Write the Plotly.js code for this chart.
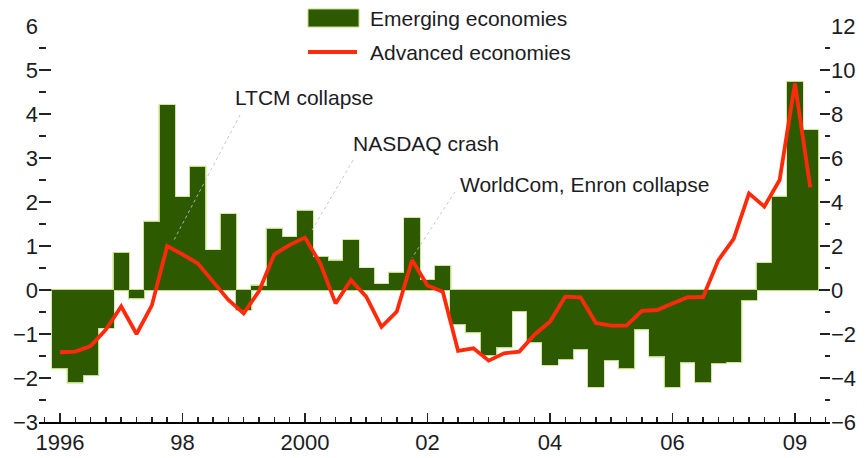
<!DOCTYPE html>
<html>
<head>
<meta charset="utf-8">
<script src="https://cdn.plot.ly/plotly-3.0.1.min.js"></script>
<style>
  html, body { margin: 0; padding: 0; background: #fff; }
  #chart { width: 868px; height: 458px; }
</style>
</head>
<body>
<div id="chart"></div>
<script>
// Quarterly periods (bar/point positions are their index on the axis)
const quarters = [
  '1996Q1','1996Q2','1996Q3','1996Q4','1997Q1','1997Q2','1997Q3','1997Q4',
  '1998Q1','1998Q2','1998Q3','1998Q4','1999Q1','1999Q2','1999Q3','1999Q4',
  '2000Q1','2000Q2','2000Q3','2000Q4','2001Q1','2001Q2','2001Q3','2001Q4',
  '2002Q1','2002Q2','2002Q3','2002Q4','2003Q1','2003Q2','2003Q3','2003Q4',
  '2004Q1','2004Q2','2004Q3','2004Q4','2005Q1','2005Q2','2005Q3','2005Q4',
  '2006Q1','2006Q2','2006Q3','2006Q4','2007Q1','2007Q2','2007Q3','2007Q4',
  '2008Q1','2008Q2'
];

// Emerging economies (left axis)
const emerging = [
  -1.78, -2.10, -1.93, -0.86,  0.84, -0.19,  1.55,  4.20,
   2.11,  2.80,  0.90,  1.72, -0.45,  0.10,  1.39,  1.20,
   1.80,  0.75,  0.67,  1.13,  0.49,  0.13,  0.39,  1.63,
   0.22,  0.54, -0.77, -0.96, -1.48, -1.30, -0.48, -1.19,
  -1.70, -1.57, -1.34, -2.20, -1.59, -1.78, -0.89, -1.51,
  -2.20, -1.64, -2.09, -1.66, -1.63, -0.23,  0.61,  2.12,
   4.73,  3.63
];

// Advanced economies (right axis)
const advanced = [
  -2.83, -2.80, -2.55, -1.80, -0.75, -2.00, -0.70,  2.00,
   1.62,  1.21,  0.38, -0.45, -1.06, -0.05,  1.62,  2.05,
   2.38,  1.21, -0.61,  0.45, -0.30, -1.67, -0.98,  1.36,
   0.20, -0.08, -2.77, -2.65, -3.21, -2.88, -2.80, -2.02,
  -1.44, -0.30, -0.33, -1.50, -1.62, -1.62, -0.95, -0.91,
  -0.61, -0.33, -0.32,  1.36,  2.32,  4.39,  3.79,  5.00,
   9.39,  4.67
];

// x-axis tick labels and the periods they sit on
const tickPeriods = ['1996Q1','1998Q1','2000Q1','2002Q1','2004Q1','2006Q1','2008Q1'];
const tickLabels  = ['1996','98','2000','02','04','06','09'];

const seriesNames = ['Emerging economies', 'Advanced economies'];

const xIdx = quarters.map((q, i) => i);
const tickVals = tickPeriods.map(p => quarters.indexOf(p));

const FONT = 'Liberation Sans, Arial, sans-serif';
const TXT = '#1c1c24';
const GREEN = '#2d5a00';
const FRINGE = '#c3dc84';
const RED = '#ff2a0a';

const traces = [
  // outline layer: its inner edges are hidden by the fill layer on top
  {
    type: 'bar',
    name: seriesNames[0] + ' outline',
    x: xIdx,
    y: emerging,
    yaxis: 'y',
    width: 1,
    marker: { color: GREEN, line: { color: FRINGE, width: 2 } },
    showlegend: false,
    hoverinfo: 'skip'
  },
  {
    type: 'bar',
    name: seriesNames[0],
    x: xIdx,
    y: emerging,
    yaxis: 'y',
    width: 1,
    marker: { color: GREEN, line: { width: 0 } },
    showlegend: false,
    hoverinfo: 'skip'
  },
  {
    type: 'scatter',
    mode: 'lines',
    name: seriesNames[1],
    x: xIdx,
    y: advanced,
    yaxis: 'y2',
    line: { color: RED, width: 3.8 },
    showlegend: false,
    hoverinfo: 'skip'
  }
];

// pixel -> paper helpers for the hand-drawn legend
const PL = 39, PR = 830, PT = 26, PB = 422;
const px = v => (v - PL) / (PR - PL);
const py = v => (PB - v) / (PB - PT);

const tickFont = { family: FONT, size: 22, color: TXT };

const layout = {
  width: 868,
  height: 458,
  margin: { l: PL, r: 868 - PR, t: PT, b: 458 - PB, pad: 0 },
  paper_bgcolor: '#ffffff',
  plot_bgcolor: '#ffffff',
  showlegend: false,
  barmode: 'overlay',
  bargap: 0,
  font: { family: FONT, size: 21, color: TXT },
  xaxis: {
    range: [-1.37, 50.29],
    tickmode: 'array',
    tickvals: tickVals,
    ticktext: tickLabels,
    ticks: 'inside',
    ticklen: 9,
    tickwidth: 1.5,
    tickcolor: '#222',
    showline: true,
    linecolor: '#000',
    linewidth: 2,
    showgrid: false,
    zeroline: false,
    tickfont: tickFont,
    minor: { tickmode: 'linear', tick0: 0, dtick: 1, ticks: 'inside', ticklen: 5, tickwidth: 1.5, tickcolor: '#222', showgrid: false }
  },
  yaxis: {
    range: [-3, 6],
    tickmode: 'linear',
    tick0: 0,
    dtick: 1,
    ticks: 'inside',
    ticklen: 12,
    tickwidth: 2,
    tickcolor: '#222',
    showline: false,
    showgrid: false,
    zeroline: true,
    zerolinecolor: '#000',
    zerolinewidth: 2,
    tickfont: tickFont,
    minor: { tickmode: 'linear', tick0: 0, dtick: 0.5, ticks: 'inside', ticklen: 7, tickwidth: 2, tickcolor: '#222', showgrid: false }
  },
  yaxis2: {
    range: [-6, 12],
    overlaying: 'y',
    side: 'right',
    tickmode: 'linear',
    tick0: 0,
    dtick: 2,
    ticks: 'inside',
    ticklen: 10,
    tickwidth: 2,
    tickcolor: '#222',
    showline: false,
    showgrid: false,
    zeroline: false,
    tickfont: tickFont,
    minor: { tickmode: 'linear', tick0: 0, dtick: 1, ticks: 'inside', ticklen: 5, tickwidth: 2, tickcolor: '#222', showgrid: false }
  },
  shapes: [
    // leader lines for the event labels
    { type: 'line', xref: 'x', yref: 'y', x0: 11.76, y0: 3.98, x1: 7.45, y1: 1.14,
      line: { color: 'rgba(190,190,190,0.85)', width: 1, dash: 'dot' }, layer: 'above' },
    { type: 'line', xref: 'x', yref: 'y', x0: 19.14, y0: 2.95, x1: 16.46, y1: 1.36,
      line: { color: 'rgba(190,190,190,0.85)', width: 1, dash: 'dot' }, layer: 'above' },
    { type: 'line', xref: 'x', yref: 'y', x0: 25.8, y0: 2.23, x1: 22.99, y1: 0.73,
      line: { color: 'rgba(190,190,190,0.85)', width: 1, dash: 'dot' }, layer: 'above' },
    // legend swatches
    { type: 'rect', xref: 'paper', yref: 'paper', x0: px(308), x1: px(359), y0: py(27), y1: py(9),
      fillcolor: GREEN, line: { color: FRINGE, width: 1 }, layer: 'above' },
    { type: 'line', xref: 'paper', yref: 'paper', x0: px(308), x1: px(357), y0: py(52), y1: py(52),
      line: { color: RED, width: 3.8 }, layer: 'above' }
  ],
  annotations: [
    { xref: 'paper', yref: 'paper', x: px(368), y: py(18.5), xanchor: 'left', yanchor: 'middle',
      text: seriesNames[0], showarrow: false, font: { family: FONT, size: 21, color: TXT } },
    { xref: 'paper', yref: 'paper', x: px(368), y: py(52.5), xanchor: 'left', yanchor: 'middle',
      text: seriesNames[1], showarrow: false, font: { family: FONT, size: 21, color: TXT } },
    { xref: 'x', yref: 'y', x: 11.3, y: 4.364, xanchor: 'left', yanchor: 'middle',
      text: 'LTCM collapse', showarrow: false, font: { family: FONT, size: 21, color: TXT } },
    { xref: 'x', yref: 'y', x: 19.0, y: 3.341, xanchor: 'left', yanchor: 'middle',
      text: 'NASDAQ crash', showarrow: false, font: { family: FONT, size: 21, color: TXT } },
    { xref: 'x', yref: 'y', x: 26.0, y: 2.409, xanchor: 'left', yanchor: 'middle',
      text: 'WorldCom, Enron collapse', showarrow: false, font: { family: FONT, size: 21, color: TXT } }
  ]
};

Plotly.newPlot('chart', traces, layout, { displayModeBar: false, staticPlot: true });
</script>
</body>
</html>
